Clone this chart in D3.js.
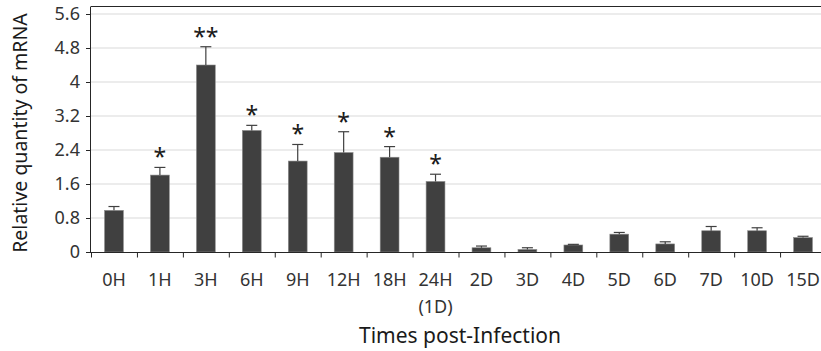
<!DOCTYPE html>
<html>
<head>
<meta charset="utf-8">
<script src="https://cdn.jsdelivr.net/npm/d3@7"></script>
<style>
  body { margin: 0; background: #fff; }
  svg { display: block; font-family: "Noto Sans", "Open Sans", sans-serif; }
</style>
</head>
<body>
<svg id="chart" width="821" height="351"></svg>
<script>
const categories = ['0H', '1H', '3H', '6H', '9H', '12H', '18H', '24H', '2D', '3D', '4D', '5D', '6D', '7D', '10D', '15D'];
const values = [0.98, 1.81, 4.40, 2.86, 2.14, 2.34, 2.23, 1.66, 0.10, 0.06, 0.165, 0.42, 0.19, 0.50, 0.50, 0.34];
const errors = [0.09, 0.18, 0.43, 0.12, 0.39, 0.49, 0.25, 0.17, 0.04, 0.04, 0.015, 0.04, 0.05, 0.10, 0.07, 0.03];
const marks = ['', '*', '**', '*', '*', '*', '*', '*', '', '', '', '', '', '', '', ''];
const subLabels = { '24H': '(1D)' };
const yTicks = [0, 0.8, 1.6, 2.4, 3.2, 4, 4.8, 5.6];

const svg = d3.select('#chart');
const plotLeft = 91, plotRight = 826, plotTop = 14, plotBottom = 252;

const x = d3.scaleBand().domain(categories).range([plotLeft, plotRight]).paddingInner(0.59).paddingOuter(0.295);
const xTicks = d3.scaleBand().domain(categories).range([plotLeft, plotRight]);
const y = d3.scaleLinear().domain([0, 5.6]).range([plotBottom, plotTop]);

// gridlines
svg.append('g')
  .selectAll('line')
  .data(yTicks.filter(d => d > 0))
  .join('line')
  .attr('x1', plotLeft).attr('x2', 821)
  .attr('y1', d => y(d)).attr('y2', d => y(d))
  .attr('stroke', '#d9d9d9').attr('stroke-width', 1);

// top frame
svg.append('line')
  .attr('x1', plotLeft).attr('x2', 821).attr('y1', 6.5).attr('y2', 6.5)
  .attr('stroke', '#262626').attr('stroke-width', 1.2);

// bars
svg.append('g')
  .selectAll('rect')
  .data(categories)
  .join('rect')
  .attr('x', d => x(d))
  .attr('y', (d, i) => y(values[i]))
  .attr('width', x.bandwidth())
  .attr('height', (d, i) => plotBottom - y(values[i]))
  .attr('fill', '#404040')
  .attr('stroke', '#8c8c8c').attr('stroke-width', 0.6);

// error bars
const eb = svg.append('g').attr('stroke', '#404040').attr('stroke-width', 1.2);
categories.forEach((c, i) => {
  const cx = x(c) + x.bandwidth() / 2;
  const yt = y(values[i] + errors[i]);
  eb.append('line').attr('x1', cx).attr('x2', cx).attr('y1', y(values[i])).attr('y2', yt);
  eb.append('line').attr('x1', cx - 5.5).attr('x2', cx + 5.5).attr('y1', yt).attr('y2', yt);
});

// significance marks
svg.append('g')
  .selectAll('text')
  .data(categories)
  .join('text')
  .attr('x', d => x(d) + x.bandwidth() / 2)
  .attr('y', (d, i) => y(values[i] + errors[i]) - 2)
  .attr('text-anchor', 'middle')
  .attr('font-size', 23)
  .attr('fill', '#1a1a1a')
  .text((d, i) => marks[i]);

// y axis
const yAxis = svg.append('g')
  .attr('transform', `translate(${plotLeft},0)`)
  .call(d3.axisLeft(y).tickValues(yTicks).tickFormat(d => d === 4 ? '4' : d).tickSize(5).tickPadding(6))
  .attr('font-family', null).attr('font-size', null);
yAxis.select('.domain').attr('d', `M-0.5,6.5V${plotBottom}`).attr('stroke', '#262626');
yAxis.selectAll('.tick line').attr('stroke', '#262626');
yAxis.selectAll('.tick text').attr('font-size', 18).attr('fill', '#333');

// x axis
const xAxis = svg.append('g')
  .attr('transform', `translate(0,${plotBottom})`)
  .call(d3.axisBottom(xTicks).tickSize(0).tickFormat(''))
  .attr('font-family', null).attr('font-size', null);
xAxis.select('.domain').attr('d', `M${plotLeft},0.5H821`).attr('stroke', '#262626');
xAxis.selectAll('.tick').remove();

xAxis.append('g')
  .selectAll('line')
  .data(categories)
  .join('line')
  .attr('x1', d => xTicks(d) + 0.5).attr('x2', d => xTicks(d) + 0.5)
  .attr('y1', 0).attr('y2', 5.5)
  .attr('stroke', '#262626');

xAxis.append('g')
  .selectAll('text')
  .data(categories)
  .join('text')
  .attr('x', d => xTicks(d) + xTicks.bandwidth() / 2)
  .attr('y', 34)
  .attr('text-anchor', 'middle')
  .attr('font-size', 18)
  .attr('fill', '#333')
  .text(d => d);

xAxis.append('g')
  .selectAll('text')
  .data(categories.filter(c => subLabels[c]))
  .join('text')
  .attr('x', d => xTicks(d) + xTicks.bandwidth() / 2)
  .attr('y', 61)
  .attr('text-anchor', 'middle')
  .attr('font-size', 18)
  .attr('fill', '#333')
  .text(d => subLabels[d]);

// axis titles
svg.append('text')
  .attr('x', 460)
  .attr('y', 343)
  .attr('text-anchor', 'middle')
  .attr('font-size', 21)
  .attr('fill', '#1a1a1a')
  .text('Times post-Infection');

svg.append('text')
  .attr('transform', `translate(27,${(14 + plotBottom) / 2}) rotate(-90)`)
  .attr('text-anchor', 'middle')
  .attr('font-size', 19.5)
  .attr('fill', '#1a1a1a')
  .text('Relative quantity of mRNA');
</script>
</body>
</html>
